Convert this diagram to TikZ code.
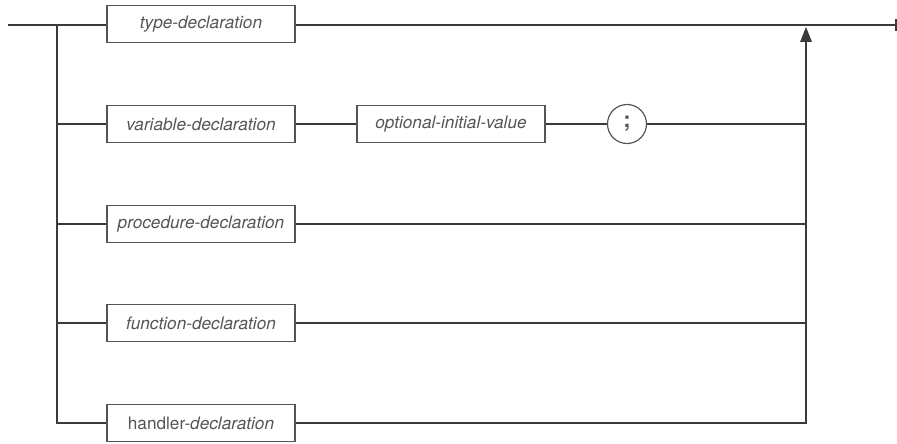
\documentclass[tikz,border=0pt]{standalone}
\usepackage{fontspec}
\setmainfont{TeX Gyre Heros}
\usetikzlibrary{arrows.meta}
\definecolor{linec}{HTML}{3A3A3A}
\definecolor{boxc}{HTML}{555555}
\definecolor{textc}{HTML}{555555}
\tikzset{
  rail/.style={draw=linec, line width=2.6pt},
  prod/.style={draw=boxc, line width=1.2pt, fill=white, minimum width=188pt, minimum height=37pt, inner sep=0pt, font=\fontsize{17.2}{19}\selectfont\itshape, text=textc},
  term/.style={draw=boxc, line width=1.2pt, fill=white, circle, minimum size=39pt, inner sep=0pt, font=\fontsize{22}{24}\selectfont\bfseries, text=textc},
}
\begin{document}
\begin{tikzpicture}[x=1pt,y=-1pt]
\useasboundingbox (0,0) rectangle (897,444);
% coordinates
\coordinate (start) at (8,25);
\coordinate (endp) at (896,25);
\coordinate (lt) at (57,25);
\coordinate (lb) at (57,423);
\coordinate (rt) at (806,25);
\coordinate (rb) at (806,423);
\coordinate (r2) at (806,124);
\coordinate (r3) at (806,224);
\coordinate (r4) at (806,323);
\coordinate (l2) at (57,124);
\coordinate (l3) at (57,224);
\coordinate (l4) at (57,323);
% rails
\draw[rail] (start) -- (endp);
\draw[linec, line width=1.8pt] ([yshift=-6]endp) -- ([yshift=6]endp);
\draw[rail] (lt) -- (lb) -- (rb) -- (806,42);
\draw[rail] (l2) -- (r2);
\draw[rail] (l3) -- (r3);
\draw[rail] (l4) -- (r4);
\fill[linec] (rt) ++(0,2) -- ++(6,15) -- ++(-12,0) -- cycle;
% boxes
\node[prod] (type) at (201,24) {type-declaration};
\node[prod] (var) at (201,124) {variable-declaration};
\node[prod] (opt) at (451,124) {optional-initial-value};
\node[term] (semi) at (627,124) {;};
\node[prod] (proc) at (201,224) {procedure-declaration};
\node[prod] (func) at (201,323) {function-declaration};
\node[prod] (hand) at (201,423) {\upshape handler-\itshape declaration};
\end{tikzpicture}
\end{document}
